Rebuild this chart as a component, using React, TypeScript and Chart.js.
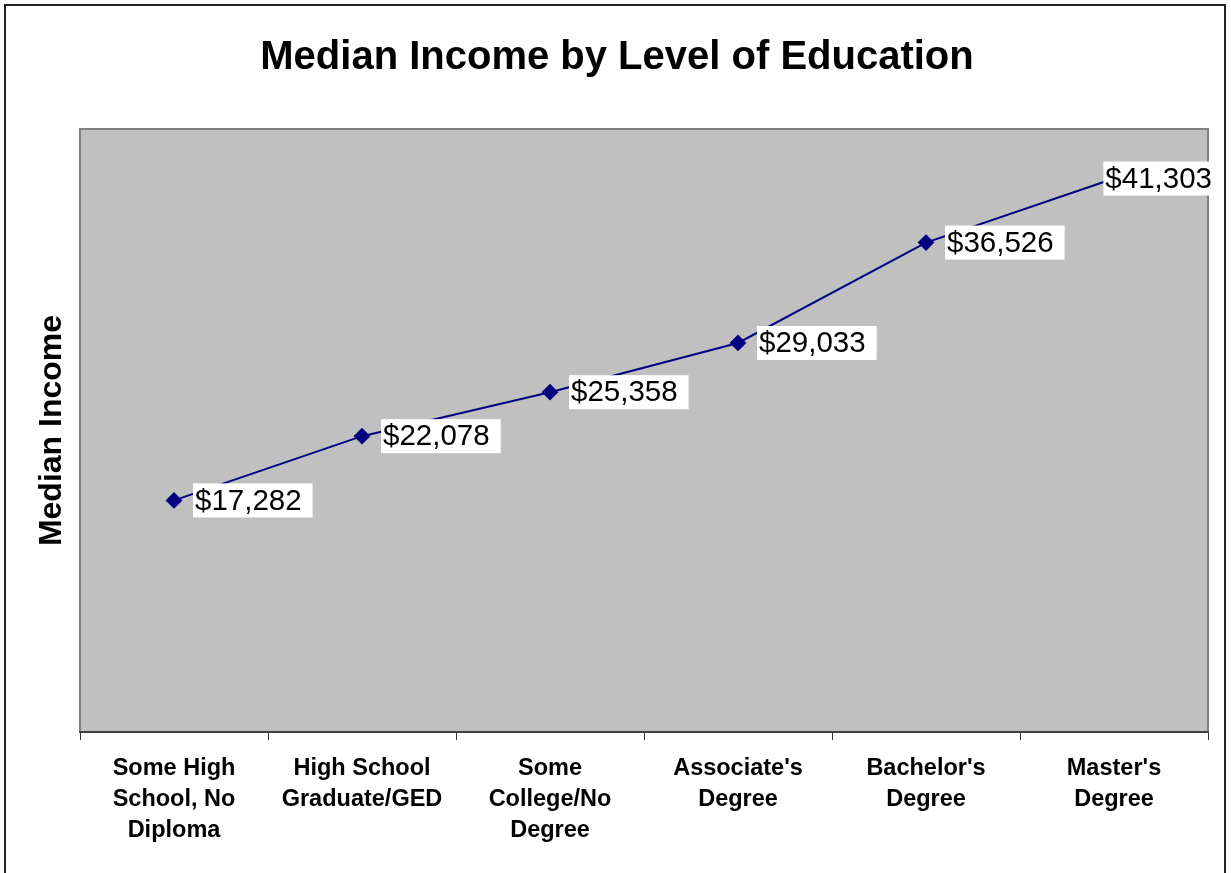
import React, { useEffect, useRef } from "react";
import { Chart, registerables } from "chart.js";

Chart.register(...registerables);

const categories: string[][] = [
  ["Some High", "School, No", "Diploma"],
  ["High School", "Graduate/GED"],
  ["Some", "College/No", "Degree"],
  ["Associate's", "Degree"],
  ["Bachelor's", "Degree"],
  ["Master's", "Degree"],
];
const incomeValues: number[] = [17282, 22078, 25358, 29033, 36526, 41303];
const chartTitle = "Median Income by Level of Education";
const yAxisTitle = "Median Income";
const yMin = 0;
const yMax = 45000;

const FONT = "Arial, 'Liberation Sans', Helvetica, sans-serif";

const fmt = (v: number) => "$" + v.toLocaleString("en-US");

const decorPlugin = {
  id: "decor",
  beforeDraw(chart: any) {
    const { ctx, chartArea: a, width, height } = chart;
    ctx.save();
    ctx.fillStyle = "#ffffff";
    ctx.fillRect(0, 0, width, height);
    // outer frame
    ctx.strokeStyle = "#222222";
    ctx.lineWidth = 2;
    ctx.strokeRect(5, 5, 1220, height + 10);
    // plot area
    ctx.fillStyle = "#C0C0C0";
    ctx.fillRect(a.left, a.top, a.right - a.left, a.bottom - a.top);
    ctx.strokeStyle = "#808080";
    ctx.lineWidth = 2;
    ctx.beginPath();
    ctx.moveTo(a.left, a.bottom);
    ctx.lineTo(a.left, a.top);
    ctx.lineTo(a.right, a.top);
    ctx.lineTo(a.right, a.bottom);
    ctx.stroke();
    // title
    ctx.fillStyle = "#000000";
    ctx.font = `bold 40px ${FONT}`;
    ctx.textAlign = "center";
    ctx.textBaseline = "middle";
    ctx.fillText(chartTitle, 617, 58);
    // y title
    ctx.save();
    ctx.translate(52, (a.top + a.bottom) / 2);
    ctx.rotate(-Math.PI / 2);
    ctx.font = `bold 32px ${FONT}`;
    ctx.fillText(yAxisTitle, 0, 0);
    ctx.restore();
    ctx.restore();
  },
  afterDatasetsDraw(chart: any) {
    const { ctx, chartArea: a } = chart;
    const meta = chart.getDatasetMeta(0);
    ctx.save();
    ctx.font = `29.5px ${FONT}`;
    ctx.textAlign = "left";
    ctx.textBaseline = "middle";
    meta.data.forEach((pt: any, i: number) => {
      const txt = fmt(incomeValues[i]);
      const w = ctx.measureText(txt).width;
      let bw = w + 13;
      let bx = pt.x + 19;
      if (bx + bw > a.right + 7) {
        bw = w + 5;
        bx = a.right + 7 - bw;
      }
      const by = pt.y - 17;
      ctx.fillStyle = "#ffffff";
      ctx.fillRect(bx, by, bw, 34);
      ctx.fillStyle = "#000000";
      ctx.fillText(txt, bx + 2, pt.y + 1);
    });
    ctx.restore();
  },
};

export default function App() {
  const ref = useRef<HTMLCanvasElement | null>(null);
  useEffect(() => {
    document.body.style.margin = "0";
    if (!ref.current) return;
    const chart = new Chart(ref.current, {
      type: "line",
      data: {
        labels: categories,
        datasets: [
          {
            data: incomeValues,
            borderColor: "#000080",
            backgroundColor: "#000080",
            borderWidth: 2,
            pointStyle: "rectRot",
            pointRadius: 7,
            pointHoverRadius: 7,
            pointBackgroundColor: "#000080",
            pointBorderColor: "#000080",
            tension: 0,
          },
        ],
      },
      options: {
        animation: false,
        responsive: false,
        devicePixelRatio: 1,
        layout: { padding: { left: 80, top: 129, right: 23, bottom: 0 } },
        plugins: {
          legend: { display: false },
          title: { display: false },
          tooltip: { enabled: false },
        },
        scales: {
          x: {
            offset: true,
            grid: {
              offset: true,
              drawOnChartArea: false,
              drawTicks: true,
              tickLength: 8,
              tickColor: "#333333",
              tickWidth: 1,
            },
            border: { display: true, color: "#404040", width: 2 },
            ticks: {
              color: "#000000",
              font: { family: FONT, size: 23.5, weight: "bold", lineHeight: "31px" },
              padding: 13,
              maxRotation: 0,
              autoSkip: false,
            },
            afterFit(scale: any) {
              scale.height = 141;
            },
          },
          y: {
            display: false,
            min: yMin,
            max: yMax,
          },
        },
      },
      plugins: [decorPlugin],
    });
    return () => chart.destroy();
  }, []);
  return (
    <div style={{ position: "absolute", left: 0, top: 0, width: 1231, height: 873 }}>
      <canvas ref={ref} width={1231} height={873} style={{ width: 1231, height: 873 }} />
    </div>
  );
}
